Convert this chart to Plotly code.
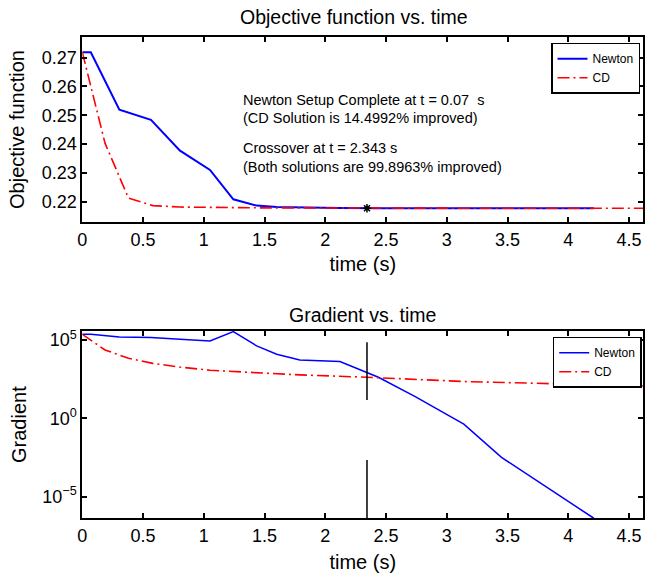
import plotly.graph_objects as go

# ---------------- data ----------------
newton_t = [0, 0.07, 0.305, 0.565, 0.804, 1.051, 1.243, 1.435, 1.6, 1.79, 2.12, 2.437, 2.74, 3.14, 3.45, 4.21]
newton_obj = [0.2719, 0.2719, 0.2519, 0.2484, 0.2377, 0.2310, 0.2208, 0.2186, 0.2181, 0.2179,
              0.2178, 0.2177, 0.2177, 0.2177, 0.2177, 0.2177]
newton_grad = [2.29e5, 2.29e5, 1.55e5, 1.41e5, 1.12e5, 8.7e4, 3.39e5, 4.17e4, 1.23e4, 5.2e3,
               4.2e3, 417, 24, 0.42, 3.2e-3, 4.2e-7]

cd_t = [0, 0.187, 0.38, 0.58, 0.8, 1.05, 1.5, 1.79, 2.34, 3.164, 4.62]
cd_obj = [0.2719, 0.2403, 0.2212, 0.2186, 0.2181, 0.2179, 0.2178, 0.2178, 0.2177, 0.2177, 0.2177]
cd_grad = [2.29e5, 2.29e4, 6.8e3, 3.2e3, 1.86e3, 1.17e3, 760, 590, 417, 219, 117]

cross_t = 2.343
cross_obj = 0.2177
cross_line_y = [7.1e4, 14.8, None, 2.2e-3, 4.2e-7]

x_ticks = [0, 0.5, 1, 1.5, 2, 2.5, 3, 3.5, 4, 4.5]
x_ticklabels = ["0", "0.5", "1", "1.5", "2", "2.5", "3", "3.5", "4", "4.5"]
obj_ticks = [0.22, 0.23, 0.24, 0.25, 0.26, 0.27]
grad_ticks = [1e-5, 1, 1e5]
grad_ticklabels = ["10<sup>\u22125</sup>", "10<sup>0</sup>", "10<sup>5</sup>"]

ann_lines = ["Newton Setup Complete at t = 0.07  s",
             "(CD Solution is 14.4992% improved)",
             "Crossover at t = 2.343 s",
             "(Both solutions are 99.8963% improved)"]

# ---------------- figure ----------------
W, H = 645, 577
FONT = "Liberation Sans, Arial, Helvetica, sans-serif"
BLUE = "#0000ff"
RED = "#ff0000"
DASHDOT = "12px,4px,2px,4px"

def px_x(p):
    return p / W

def px_y(p):
    return 1 - p / H

fig = go.Figure()

fig.add_trace(go.Scatter(x=newton_t, y=newton_obj, mode="lines", name="Newton",
                         line=dict(color=BLUE, width=2), xaxis="x", yaxis="y", legend="legend"))
fig.add_trace(go.Scatter(x=cd_t, y=cd_obj, mode="lines", name="CD",
                         line=dict(color=RED, width=1.6, dash=DASHDOT), xaxis="x", yaxis="y", legend="legend"))
fig.add_trace(go.Scatter(x=[cross_t], y=[cross_obj], mode="markers", showlegend=False,
                         marker=dict(symbol="asterisk-open", size=7, color="black",
                                     line=dict(color="black", width=1.5)),
                         xaxis="x", yaxis="y"))

fig.add_trace(go.Scatter(x=newton_t, y=newton_grad, mode="lines", name="Newton",
                         line=dict(color=BLUE, width=1.5), xaxis="x2", yaxis="y2", legend="legend2"))
fig.add_trace(go.Scatter(x=cd_t, y=cd_grad, mode="lines", name="CD",
                         line=dict(color=RED, width=1.6, dash=DASHDOT), xaxis="x2", yaxis="y2", legend="legend2"))
fig.add_trace(go.Scatter(x=[cross_t] * len(cross_line_y), y=cross_line_y, mode="lines", showlegend=False,
                         connectgaps=False, line=dict(color="black", width=1.5), xaxis="x2", yaxis="y2"))

axis_common = dict(showline=True, linecolor="black", linewidth=2, mirror="ticks",
                   ticks="inside", ticklen=5, tickwidth=1.5, tickcolor="black",
                   showgrid=False, zeroline=False, automargin=False,
                   tickfont=dict(family=FONT, size=18, color="black"))

xdom = [px_x(82.3), px_x(643.3)]
fig.update_layout(
    width=W, height=H,
    margin=dict(l=0, r=0, t=0, b=0, autoexpand=False),
    paper_bgcolor="white", plot_bgcolor="white",
    font=dict(family=FONT, color="black"),
    xaxis=dict(axis_common, domain=xdom, range=[0, 4.617], tickvals=x_ticks, ticktext=x_ticklabels,
               anchor="y",
               title=dict(text="time (s)", font=dict(family=FONT, size=20), standoff=8)),
    yaxis=dict(axis_common, domain=[px_y(222.3), px_y(36.7)], range=[0.2128, 0.2773],
               tickvals=obj_ticks, ticktext=[f"{v:.2f}" for v in obj_ticks], anchor="x",
               title=dict(text="Objective function", font=dict(family=FONT, size=20), standoff=12)),
    xaxis2=dict(axis_common, domain=xdom, range=[0, 4.617], tickvals=x_ticks, ticktext=x_ticklabels,
                anchor="y2",
                title=dict(text="time (s)", font=dict(family=FONT, size=20), standoff=10)),
    yaxis2=dict(axis_common, domain=[px_y(518.3), px_y(331)], type="log", range=[-6.38, 5.57],
                tickvals=grad_ticks, ticktext=grad_ticklabels, anchor="x2",
                title=dict(text="Gradient", font=dict(family=FONT, size=20), standoff=10)),
    legend=dict(x=px_x(640), y=px_y(42.7), xanchor="right", yanchor="top",
                bgcolor="white", bordercolor="black", borderwidth=1.5,
                font=dict(family=FONT, size=12, color="black"),
                itemwidth=30, tracegroupgap=0),
    legend2=dict(x=px_x(641.7), y=px_y(336.7), xanchor="right", yanchor="top",
                 bgcolor="white", bordercolor="black", borderwidth=1.5,
                 font=dict(family=FONT, size=12, color="black"),
                 itemwidth=30, tracegroupgap=0),
    showlegend=True,
)

titles = [("Objective function vs. time", 354, 17), ("Gradient vs. time", 362, 315)]
for txt, xc, yc in titles:
    fig.add_annotation(text=txt, xref="paper", yref="paper", x=px_x(xc), y=px_y(yc),
                       xanchor="center", yanchor="middle", showarrow=False,
                       font=dict(family=FONT, size=19.5, color="black"))

ann_y = [100, 118.3, 148.3, 166.7]
for txt, yc in zip(ann_lines, ann_y):
    fig.add_annotation(text=txt, xref="paper", yref="paper", x=px_x(240.5), y=px_y(yc),
                       xanchor="left", yanchor="middle", showarrow=False,
                       font=dict(family=FONT, size=14.5, color="black"))

fig.write_html("out.html", config={"displayModeBar": False},
               post_script="document.body.style.margin='0';document.body.style.overflow='hidden';")
